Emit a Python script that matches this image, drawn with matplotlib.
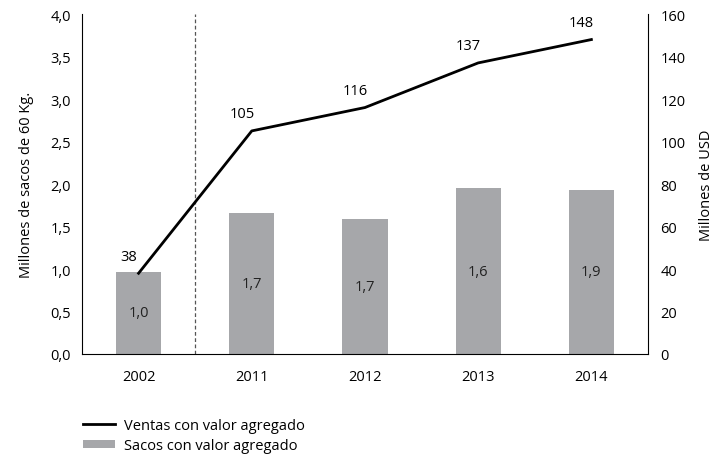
import matplotlib
matplotlib.use("Agg")
import matplotlib.pyplot as plt
from matplotlib.patches import Patch
from matplotlib.lines import Line2D

plt.rcParams['font.family'] = ['Open Sans', 'DejaVu Sans']

years = ["2002", "2011", "2012", "2013", "2014"]
sacos = [0.97, 1.66, 1.59, 1.95, 1.93]
sacos_labels = ["1,0", "1,7", "1,7", "1,6", "1,9"]
ventas = [38, 105, 116, 137, 148]
left_ticks = [0.0, 0.5, 1.0, 1.5, 2.0, 2.5, 3.0, 3.5, 4.0]
right_ticks = [0, 20, 40, 60, 80, 100, 120, 140, 160]

FS = 10.5
fig = plt.figure(figsize=(7.16, 4.56), dpi=100)
ax = fig.add_axes([0.1145, 0.2215, 0.7905, 0.7455])
x = list(range(len(years)))
bar_color = "#A6A7AA"
bars = ax.bar(x, sacos, width=0.4, color=bar_color, zorder=2)
ax.bar_label(bars, labels=sacos_labels, label_type="center", fontsize=FS, color="#222222")
ax.set_ylim(0, 4.0)
ax.set_xlim(-0.5, len(years) - 0.5)
ax.set_yticks(left_ticks)
ax.set_yticklabels([f"{v:.1f}".replace(".", ",") for v in left_ticks])
ax.set_xticks(x)
ax.set_xticklabels(years)
ax.tick_params(axis="y", length=0, labelsize=FS, pad=8)
ax.tick_params(axis="x", length=0, labelsize=FS, pad=11)
ax.set_ylabel("Millones de sacos de 60 Kg.", fontsize=FS, labelpad=12)
ax.spines["top"].set_visible(False)
ax.spines["right"].set_visible(False)
ax.axvline(0.5, color="#555555", linestyle=(0, (3, 2)), linewidth=0.9)

ax2 = ax.twinx()
ax2.plot(x, ventas, color="black", linewidth=2, zorder=3)
for xi, v in zip(x, ventas):
    ax2.annotate(str(v), (xi, v), xytext=(-7, 7), textcoords="offset points",
                 ha="center", va="bottom", fontsize=FS)
ax2.set_ylim(0, 160)
ax2.set_yticks(right_ticks)
ax2.tick_params(axis="y", length=0, labelsize=FS, pad=9)
ax2.set_ylabel("Millones de USD", fontsize=FS, labelpad=10)
ax2.spines["top"].set_visible(False)
ax2.spines["left"].set_visible(False)
ax2.spines["bottom"].set_visible(False)

handles = [Line2D([0], [0], color="black", linewidth=2),
           Patch(facecolor=bar_color)]
fig.legend(handles, ["Ventas con valor agregado", "Sacos con valor agregado"],
           loc="upper left", bbox_to_anchor=(0.108, 0.095), frameon=False,
           fontsize=FS, handlelength=2.2, handleheight=0.4, labelspacing=0.4,
           handletextpad=0.6, borderaxespad=0)

fig.savefig("out.png", dpi=100)
